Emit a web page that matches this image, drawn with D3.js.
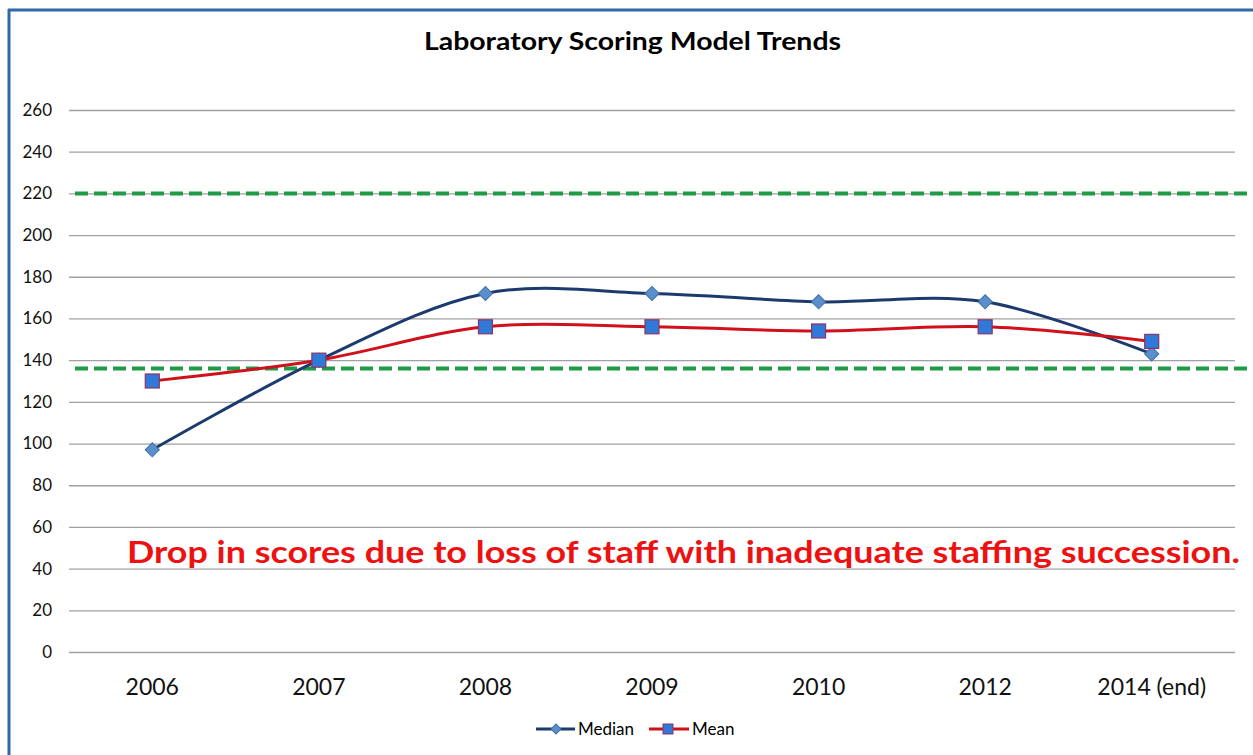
<!DOCTYPE html>
<html>
<head>
<meta charset="utf-8">
<script src="https://cdn.jsdelivr.net/npm/d3@7"></script>
<style>
  body { margin: 0; background: #fff; }
  text { font-family: Lato, "Open Sans", sans-serif; }
</style>
</head>
<body>
<div id="chart"></div>
<script>
var years = ["2006", "2007", "2008", "2009", "2010", "2012", "2014 (end)"];
var median = [97, 140, 172, 172, 168, 168, 143];
var mean = [130, 140, 156, 156, 154, 156, 149];
var refLines = [220, 136];
var yTicks = [0, 20, 40, 60, 80, 100, 120, 140, 160, 180, 200, 220, 240, 260];

var W = 1253, H = 755;
var margin = { top: 110, right: 18, bottom: 103, left: 69 },
  width = W - margin.left - margin.right,
  height = H - margin.top - margin.bottom;

var svg = d3.select("#chart").append("svg")
  .attr("width", W).attr("height", H);

// frame (top + left edges visible)
svg.append("line").attr("x1", 8).attr("x2", W).attr("y1", 10).attr("y2", 10)
  .attr("stroke", "#2f6aa6").attr("stroke-width", 3);
svg.append("line").attr("x1", 9).attr("x2", 9).attr("y1", 9).attr("y2", H)
  .attr("stroke", "#2f6aa6").attr("stroke-width", 3);

svg.append("text")
  .attr("x", 424).attr("y", 50)
  .attr("textLength", 417).attr("lengthAdjust", "spacingAndGlyphs")
  .style("font-size", "24px").style("font-weight", "bold")
  .text("Laboratory  Scoring Model Trends");

var g = svg.append("g")
  .attr("transform", "translate(" + margin.left + "," + margin.top + ")");

var x = d3.scaleBand().domain(years).range([0, width]);
var y = d3.scaleLinear().domain([0, 260]).range([height, 0]);

// gridlines + y labels
var yAxis = d3.axisLeft(y).tickValues(yTicks).tickSize(-width).tickPadding(17);
var ya = g.append("g").call(yAxis);
ya.select(".domain").remove();
ya.selectAll(".tick line").attr("stroke", "#a0a0a0").attr("stroke-width", 1.3);
ya.selectAll(".tick text").style("font-size", "17px").attr("fill", "#111");

// x labels
var xAxis = d3.axisBottom(x).tickSize(0).tickPadding(27);
var xa = g.append("g").attr("transform", "translate(0," + height + ")").call(xAxis);
xa.select(".domain").remove();
xa.selectAll(".tick text").style("font-size", "23px").attr("fill", "#111");

// reference dashed lines
g.selectAll(".ref").data(refLines).enter().append("line")
  .attr("x1", 6).attr("x2", W - margin.left)
  .attr("y1", function(d) { return y(d); })
  .attr("y2", function(d) { return y(d); })
  .attr("stroke", "#1f9a47").attr("stroke-width", 4)
  .attr("stroke-dasharray", "13,6");

var cx = function(i) { return x(years[i]) + x.bandwidth() / 2; };
var line = d3.line()
  .x(function(d, i) { return cx(i); })
  .y(function(d) { return y(d); })
  .curve(d3.curveCatmullRom.alpha(0));

g.append("path").datum(median).attr("d", line)
  .attr("fill", "none").attr("stroke", "#1c3a6e").attr("stroke-width", 3);
g.append("path").datum(mean).attr("d", line)
  .attr("fill", "none").attr("stroke", "#d0101a").attr("stroke-width", 3);

var diamond = d3.symbol().type(d3.symbolSquare).size(100);
g.selectAll(".med").data(median).enter().append("path")
  .attr("d", diamond)
  .attr("transform", function(d, i) { return "translate(" + cx(i) + "," + y(d) + ") rotate(45)"; })
  .attr("fill", "#5b8fcc").attr("stroke", "#3f6fa8").attr("stroke-width", 1);

g.selectAll(".mn").data(mean).enter().append("rect")
  .attr("x", function(d, i) { return cx(i) - 7; })
  .attr("y", function(d) { return y(d) - 7; })
  .attr("width", 14).attr("height", 14)
  .attr("fill", "#2f7ad8").attr("stroke", "#8a3467").attr("stroke-width", 1.2);

// annotation
svg.append("text")
  .attr("x", 127).attr("y", 563)
  .attr("textLength", 1113).attr("lengthAdjust", "spacingAndGlyphs")
  .style("font-size", "30px").style("font-weight", "bold")
  .attr("fill", "#ee1111")
  .text("Drop in scores due to loss of staff with inadequate staffing succession.");

// legend
var leg = svg.append("g").attr("transform", "translate(0,729)");
leg.append("line").attr("x1", 536).attr("x2", 575).attr("y1", 0).attr("y2", 0)
  .attr("stroke", "#1c3a6e").attr("stroke-width", 3);
leg.append("path").attr("d", d3.symbol().type(d3.symbolSquare).size(50))
  .attr("transform", "translate(556,0) rotate(45)")
  .attr("fill", "#5b8fcc").attr("stroke", "#3f6fa8");
leg.append("text").attr("x", 578).attr("y", 6).style("font-size", "17px").text("Median");
leg.append("line").attr("x1", 649).attr("x2", 689).attr("y1", 0).attr("y2", 0)
  .attr("stroke", "#d0101a").attr("stroke-width", 3);
leg.append("rect").attr("x", 663).attr("y", -5).attr("width", 10).attr("height", 10)
  .attr("fill", "#2f7ad8").attr("stroke", "#8a3467");
leg.append("text").attr("x", 692).attr("y", 6).style("font-size", "17px").text("Mean");
</script>
</body>
</html>
